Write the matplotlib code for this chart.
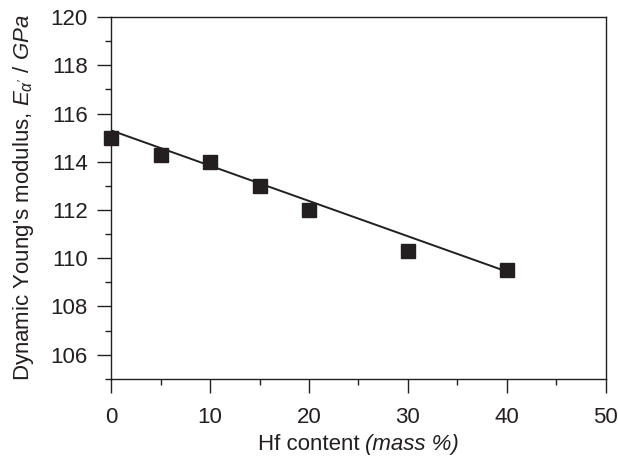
import matplotlib
matplotlib.use("Agg")
import matplotlib.pyplot as plt
from matplotlib.ticker import MultipleLocator

plt.rcParams['font.family'] = ['Liberation Sans', 'DejaVu Sans']
plt.rcParams['mathtext.fontset'] = 'custom'
plt.rcParams['mathtext.rm'] = 'Liberation Sans'
plt.rcParams['mathtext.it'] = 'Liberation Sans:italic'

hf_content = [0, 5, 10, 15, 20, 30, 40]
modulus = [115.0, 114.3, 114.0, 113.0, 112.0, 110.3, 109.5]
fit_x = [0, 40]
fit_y = [115.3, 109.45]

ink = '#231f20'
fs = 16
fig = plt.figure(figsize=(6.18, 4.62), dpi=100)
ax = fig.add_axes([0.18, 0.180, 0.80, 0.783])

ax.plot(fit_x, fit_y, color=ink, lw=1.4, zorder=2)
ax.plot(hf_content, modulus, 's', color=ink, ms=10, zorder=3, clip_on=False)

ax.set_xlim(0, 50)
ax.set_ylim(105, 120)
ax.xaxis.set_major_locator(MultipleLocator(10))
ax.xaxis.set_minor_locator(MultipleLocator(5))
ax.yaxis.set_minor_locator(MultipleLocator(1))
ax.set_yticks([106, 108, 110, 112, 114, 116, 118, 120])

for s in ax.spines.values():
    s.set_linewidth(1.0)
    s.set_color(ink)

ax.tick_params(which='major', direction='out', length=10, width=1.0, color=ink,
               labelsize=fs, labelcolor=ink, pad=7, top=False, right=False)
ax.tick_params(axis='x', which='major', pad=10)
ax.tick_params(which='minor', direction='out', length=4.5, width=1.0, color=ink,
               top=False, right=False)

# x label: "Hf content " upright + "(mass %)" italic
t1 = fig.text(0.5, 0.025, "Hf content ", fontsize=fs, color=ink, ha='right', va='baseline')
t2 = fig.text(0.5, 0.025, "(mass %)", fontsize=fs, color=ink, style='italic', ha='left', va='baseline')
fig.canvas.draw()
r = fig.canvas.get_renderer()
w1 = t1.get_window_extent(r).width
w2 = t2.get_window_extent(r).width
figw = fig.get_figwidth() * fig.dpi
cx = (0.18 + 0.40) * figw
split = cx - (w1 + w2) / 2 + w1
t1.set_x(split / figw)
t2.set_x(split / figw)

ax.set_ylabel("Dynamic Young's modulus, $E_{\\alpha'}$ / $\\mathit{GPa}$", fontsize=fs,
              color=ink, labelpad=10)

fig.savefig("out.png", dpi=100)
